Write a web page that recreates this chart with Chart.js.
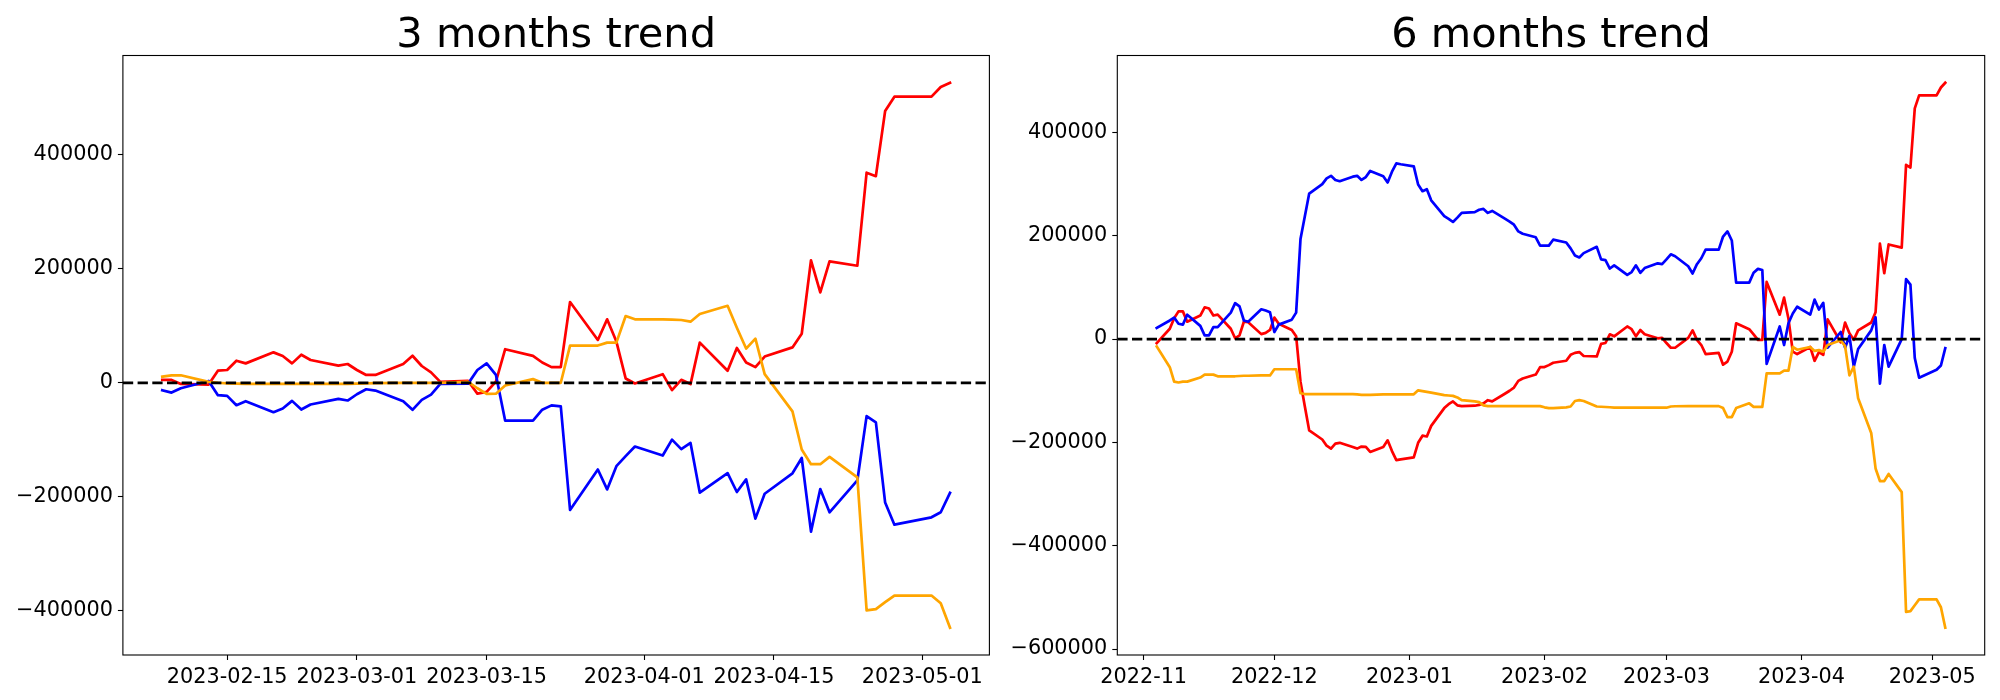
<!DOCTYPE html>
<html>
<head>
<meta charset="utf-8">
<script src="https://cdn.jsdelivr.net/npm/chart.js@4.4.0/dist/chart.umd.min.js"></script>
<style>
  html, body { margin: 0; padding: 0; background: #fff; }
  #wrap { position: relative; width: 2000px; height: 700px; }
  canvas { position: absolute; top: 0; }
</style>
</head>
<body>
<div id="wrap">
  <canvas id="chart3" width="1000" height="700" style="left:0"></canvas>
  <canvas id="chart6" width="1000" height="700" style="left:1000px"></canvas>
</div>
<script>
// 3 months trend data
const dates3 = [
  '2023-02-08', '2023-02-09', '2023-02-10',
  '2023-02-13', '2023-02-14', '2023-02-15', '2023-02-16', '2023-02-17',
  '2023-02-20', '2023-02-21', '2023-02-22', '2023-02-23', '2023-02-24',
  '2023-02-27', '2023-02-28', '2023-03-01', '2023-03-02', '2023-03-03',
  '2023-03-06', '2023-03-07', '2023-03-08', '2023-03-09', '2023-03-10',
  '2023-03-13', '2023-03-14', '2023-03-15', '2023-03-16', '2023-03-17',
  '2023-03-20', '2023-03-21', '2023-03-22', '2023-03-23', '2023-03-24',
  '2023-03-27', '2023-03-28', '2023-03-29', '2023-03-30', '2023-03-31',
  '2023-04-03', '2023-04-04', '2023-04-05', '2023-04-06', '2023-04-07',
  '2023-04-10', '2023-04-11', '2023-04-12', '2023-04-13', '2023-04-14',
  '2023-04-17', '2023-04-18', '2023-04-19', '2023-04-20', '2023-04-21',
  '2023-04-24', '2023-04-25', '2023-04-26', '2023-04-27', '2023-04-28',
  '2023-05-02', '2023-05-03', '2023-05-04'
];
const red3 = [
  5000, 5000, -2000,
  -3200, 21200, 22400, 38700, 34000,
  53300, 46900, 34000, 49200, 39900,
  30000, 32900, 22400, 13700, 13700,
  32900, 47400, 29400, 18300, 1500,
  3200, -19000, -16000, 2000, 58800,
  47200, 35500, 27400, 27400, 141500,
  75100, 111200, 72200, 7600, -1200,
  15100, -12800, 5200, -2300, 70400,
  21000, 61100, 35500, 27400, 46000,
  62000, 86000, 214700, 158300, 212700,
  205200, 368300, 362200, 476300, 501500,
  501500, 518500, 525900
];
const blue3 = [
  -13100, -17200, -9600,
  3200, -21800, -23000, -39300, -32300,
  -51500, -45100, -31700, -46900, -38100,
  -28200, -31100, -20100, -11400, -13700,
  -32300, -47400, -30000, -20700, -2000,
  -1500, 22400, 34000, 14000, -66400,
  -66400, -47200, -39600, -41300, -222900,
  -152000, -186900, -146100, -128700, -111800,
  -127500, -99600, -116400, -105400, -192700,
  -158400, -191500, -169400, -238100, -194500,
  -158700, -131800, -260900, -186200, -227000,
  -171200, -58400, -69300, -210000, -248700,
  -235800, -227000, -193000
];
const orange3 = [
  10800, 13100, 13100,
  1500, 0, -1000, -1500, -2000,
  -2000, -2000, -2000, -2000, -2000,
  -2000, -2000, -1500, -1000, -500,
  0, 0, 0, 0, 0,
  1500, -9600, -19500, -19200, -4700,
  6400, 0, 0, 0, 65200,
  65200, 70400, 70400, 117000, 111200,
  111200, 110600, 110000, 107100, 120500,
  135000, 96600, 60000, 77400, 15100,
  -50200, -116900, -142700, -142700, -129800,
  -165800, -398900, -396800, -384600, -373000,
  -373000, -386600, -429400
];
const xTicks3 = ['2023-02-15', '2023-03-01', '2023-03-15', '2023-04-01', '2023-04-15', '2023-05-01'];
const yTicks3 = [-400000, -200000, 0, 200000, 400000];

// 6 months trend data
const dates6 = [
  '2022-11-04',
  '2022-11-07', '2022-11-08', '2022-11-09', '2022-11-10', '2022-11-11',
  '2022-11-14', '2022-11-15', '2022-11-16', '2022-11-17', '2022-11-18',
  '2022-11-21', '2022-11-22', '2022-11-23', '2022-11-24', '2022-11-25',
  '2022-11-28', '2022-11-29', '2022-11-30', '2022-12-01', '2022-12-02',
  '2022-12-05', '2022-12-06', '2022-12-07', '2022-12-08', '2022-12-09',
  '2022-12-12', '2022-12-13', '2022-12-14', '2022-12-15', '2022-12-16',
  '2022-12-19', '2022-12-20', '2022-12-21', '2022-12-22', '2022-12-23',
  '2022-12-26', '2022-12-27', '2022-12-28', '2022-12-29', '2022-12-30',
  '2023-01-02', '2023-01-03', '2023-01-04', '2023-01-05', '2023-01-06',
  '2023-01-09', '2023-01-10', '2023-01-11', '2023-01-12', '2023-01-13',
  '2023-01-16', '2023-01-17', '2023-01-18', '2023-01-19', '2023-01-20',
  '2023-01-23', '2023-01-24', '2023-01-25', '2023-01-26', '2023-01-27',
  '2023-01-30', '2023-01-31', '2023-02-01', '2023-02-02', '2023-02-03',
  '2023-02-06', '2023-02-07', '2023-02-08', '2023-02-09', '2023-02-10',
  '2023-02-13', '2023-02-14', '2023-02-15', '2023-02-16', '2023-02-17',
  '2023-02-20', '2023-02-21', '2023-02-22', '2023-02-23', '2023-02-24',
  '2023-02-27', '2023-02-28', '2023-03-01', '2023-03-02', '2023-03-03',
  '2023-03-06', '2023-03-07', '2023-03-08', '2023-03-09', '2023-03-10',
  '2023-03-13', '2023-03-14', '2023-03-15', '2023-03-16', '2023-03-17',
  '2023-03-20', '2023-03-21', '2023-03-22', '2023-03-23', '2023-03-24',
  '2023-03-27', '2023-03-28', '2023-03-29', '2023-03-30', '2023-03-31',
  '2023-04-03', '2023-04-04', '2023-04-05', '2023-04-06', '2023-04-07',
  '2023-04-10', '2023-04-11', '2023-04-12', '2023-04-13', '2023-04-14',
  '2023-04-17', '2023-04-18', '2023-04-19', '2023-04-20', '2023-04-21',
  '2023-04-24', '2023-04-25', '2023-04-26', '2023-04-27', '2023-04-28',
  '2023-05-02', '2023-05-03', '2023-05-04'
];
const red6 = [
  -8000,
  20000, 40400, 53600, 53600, 33600,
  45600, 61600, 59200, 45600, 47200,
  20000, 1600, 7200, 33600, 32800,
  9600, 12000, 17600, 41600, 29600,
  17600, 5600, -82400, -130400, -176800,
  -194400, -206400, -212000, -202400, -200800,
  -208800, -212000, -208000, -208800, -218400,
  -208800, -196000, -216800, -234400, -232800,
  -229000, -200800, -187000, -188600, -168000,
  -133600, -126000, -120600, -128300, -129800,
  -129000, -127500, -124400, -118300, -120600,
  -105300, -100000, -93900, -80900, -76300,
  -68700, -54200, -54200, -50400, -45800,
  -42000, -30500, -26700, -25200, -32800,
  -33600, -9200, -7600, 9200, 5300,
  24400, 19100, 5300, 17600, 9200,
  1500, 2300, -7600, -16800, -16800,
  2300, 16800, -1500, -11500, -29000,
  -26700, -49600, -43500, -24400, 30500,
  19100, 9200, -1500, -1500, 110700,
  47300, 80200, 39700, -24400, -29000,
  -15300, -42000, -25200, -30500, 38200,
  -6100, 32100, 11500, -1500, 16800,
  32100, 51900, 184700, 127500, 183200,
  177100, 337400, 332100, 446600, 471800,
  471800, 487000, 496200
];
const blue6 = [
  21600,
  36000, 41600, 29600, 28000, 47200,
  25600, 7200, 7200, 23200, 23200,
  51200, 69600, 63200, 36000, 33600,
  57600, 55200, 52000, 13600, 28000,
  37600, 51200, 193600, 237600, 281600,
  300000, 311200, 316000, 308000, 305600,
  314400, 316000, 308000, 313600, 325600,
  315200, 303200, 324000, 340000, 338400,
  334400, 299300, 286300, 290100, 268700,
  238200, 232800, 226700, 235100, 244300,
  245800, 250400, 251900, 244300, 248100,
  232800, 227500, 221400, 208400, 203800,
  197000, 180900, 180900, 180900, 192400,
  187000, 175600, 161800, 158000, 166400,
  178600, 154200, 152700, 136600, 142800,
  124400, 129800, 142800, 128300, 137400,
  146600, 145000, 154200, 164100, 160300,
  141000, 127000, 145000, 156500, 173300,
  173300, 198500, 208400, 190900, 109200,
  109200, 128300, 135900, 133600, -48100,
  24400, -11500, 30500, 49600, 62600,
  47300, 76300, 57300, 70200, -16800,
  13700, -16800, 6100, -53400, -19100,
  16800, 42000, -86300, -11500, -53400,
  0, 116000, 105300, -36600, -74800,
  -59500, -51100, -17600
];
const orange6 = [
  -14400,
  -54400, -82400, -84000, -82400, -82400,
  -74400, -68800, -68800, -68800, -72000,
  -72000, -72000, -71500, -71000, -71000,
  -70400, -70400, -70400, -58400, -58400,
  -58400, -58400, -104800, -106400, -106400,
  -106400, -106400, -106400, -106400, -106400,
  -106400, -107200, -108000, -108000, -108000,
  -107200, -107200, -106900, -106900, -106900,
  -106900, -99200, -100800, -102300, -103800,
  -108400, -109200, -109900, -112900, -118300,
  -120600, -122100, -128300, -129800, -129800,
  -129800, -129800, -129800, -129800, -129800,
  -129800, -129800, -132100, -133600, -133600,
  -132100, -130500, -119900, -118300, -119900,
  -130500, -131000, -131500, -132000, -132800,
  -132800, -132800, -132800, -132800, -132800,
  -132800, -132800, -132800, -130500, -130000,
  -129800, -129800, -129800, -129800, -129800,
  -129800, -133600, -151200, -151200, -133600,
  -124400, -131300, -131300, -131300, -66400,
  -66400, -61100, -61100, -15300, -20600,
  -15300, -22900, -21400, -24400, -11500,
  -2300, -13700, -70200, -53400, -114500,
  -181700, -250400, -274800, -274800, -261100,
  -296200, -528300, -526700, -515300, -503800,
  -503800, -519100, -558800
];
const xTicks6 = ['2022-11', '2022-12', '2023-01', '2023-02', '2023-03', '2023-04', '2023-05'];
const yTicks6 = [-600000, -400000, -200000, 0, 200000, 400000];

const tickFont = { family: 'DejaVu Sans', size: 20.8 };

// date string -> day number
function toDay(s) {
  return Date.parse(s) / 864e5;
}

// matplotlib style 5% margins
function padRange(lo, hi) {
  const m = (hi - lo) * 0.05;
  return [lo - m, hi + m];
}

function fmtY(v) {
  return v < 0 ? '\u2212' + Math.abs(v) : String(v);
}

// title and frame around the plot area
function framePlugin(text) {
  return {
    id: 'frame',
    afterDraw(chart) {
      const { ctx, chartArea: a } = chart;
      ctx.save();
      ctx.strokeStyle = '#000';
      ctx.lineWidth = 1.1;
      ctx.strokeRect(a.left, a.top, a.right - a.left, a.bottom - a.top);
      ctx.fillStyle = '#000';
      ctx.font = '41.5px "DejaVu Sans"';
      ctx.textAlign = 'center';
      ctx.textBaseline = 'alphabetic';
      ctx.fillText(text, (a.left + a.right) / 2, 47);
      ctx.restore();
    }
  };
}

function makeChart(id, cfg) {
  const xs = cfg.dates.map(toDay);
  const all = [].concat(...cfg.series.map(s => s.values));
  const [xMin, xMax] = padRange(xs[0], xs[xs.length - 1]);
  const [yMin, yMax] = padRange(Math.min(...all), Math.max(...all));
  const xTickVals = cfg.xTicks.map(toDay);

  // zero line first so it is drawn on top
  const datasets = [{
    data: [{ x: xMin, y: 0 }, { x: xMax, y: 0 }],
    borderColor: '#000',
    borderWidth: 2.7,
    borderDash: [10.3, 4.4],
    borderCapStyle: 'butt'
  }];
  cfg.series.slice().reverse().forEach(s => {
    datasets.push({
      data: cfg.dates.map((d, i) => ({ x: toDay(d), y: s.values[i] })),
      borderColor: s.color,
      borderWidth: 2.7
    });
  });

  const axisGrid = { drawOnChartArea: false, tickLength: 5, tickWidth: 1.1, tickColor: '#000' };

  return new Chart(document.getElementById(id), {
    type: 'line',
    data: { datasets },
    plugins: [framePlugin(cfg.title)],
    options: {
      responsive: false,
      animation: false,
      devicePixelRatio: 1,
      parsing: false,
      elements: {
        point: { radius: 0 },
        line: { tension: 0, borderJoinStyle: 'round', borderCapStyle: 'square' }
      },
      layout: { padding: { left: 0, right: 1000 - cfg.area.right, top: cfg.area.top, bottom: 0 } },
      plugins: { legend: { display: false }, tooltip: { enabled: false } },
      scales: {
        x: {
          type: 'linear',
          min: xMin,
          max: xMax,
          afterFit: s => { s.height = 700 - cfg.area.bottom; },
          afterBuildTicks: s => { s.ticks = xTickVals.map(v => ({ value: v })); },
          grid: axisGrid,
          border: { display: false },
          ticks: {
            font: tickFont,
            color: '#000',
            padding: 5,
            maxRotation: 0,
            autoSkip: false,
            callback: (v, i) => cfg.xTicks[i]
          }
        },
        y: {
          type: 'linear',
          min: yMin,
          max: yMax,
          afterFit: s => { s.width = cfg.area.left; },
          afterBuildTicks: s => { s.ticks = cfg.yTicks.map(v => ({ value: v })); },
          grid: axisGrid,
          border: { display: false },
          ticks: {
            font: tickFont,
            color: '#000',
            padding: 5,
            callback: v => fmtY(v)
          }
        }
      }
    }
  });
}

makeChart('chart3', {
  title: '3 months trend',
  dates: dates3,
  series: [
    { values: red3, color: '#ff0000' },
    { values: blue3, color: '#0000ff' },
    { values: orange3, color: '#ffa500' }
  ],
  xTicks: xTicks3,
  yTicks: yTicks3,
  area: { left: 122.9, right: 989.4, top: 55.5, bottom: 655 }
});

makeChart('chart6', {
  title: '6 months trend',
  dates: dates6,
  series: [
    { values: red6, color: '#ff0000' },
    { values: blue6, color: '#0000ff' },
    { values: orange6, color: '#ffa500' }
  ],
  xTicks: xTicks6,
  yTicks: yTicks6,
  area: { left: 117.3, right: 984.7, top: 55.5, bottom: 655 }
});
</script>
</body>
</html>
